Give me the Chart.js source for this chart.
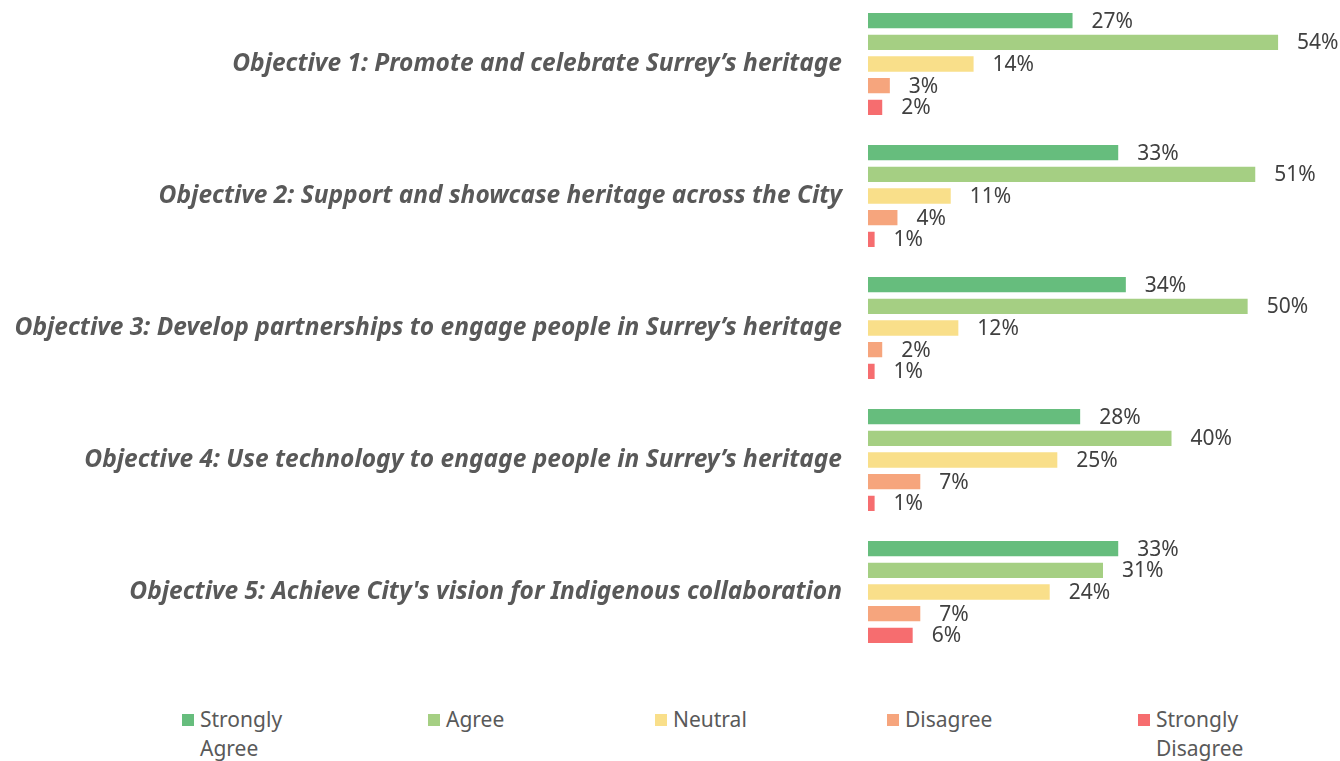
<!DOCTYPE html>
<html>
<head>
<meta charset="utf-8">
<script src="https://cdn.jsdelivr.net/npm/chart.js@4"></script>
<style>
  body { margin: 0; background: #fff; font-family: "Noto Sans", sans-serif; }
  #wrap { position: relative; width: 1340px; height: 761px; overflow: hidden; }
  #chartBox { position: absolute; left: 0; top: -2px; width: 1340px; height: 660px; }
  #legend { position: absolute; left: 0; top: 705px; width: 1340px; height: 56px; }
  .item { position: absolute; top: 0; display: flex; align-items: flex-start; }
  .swatch { width: 12px; height: 12px; margin-top: 9px; margin-right: 6px; }
  .txt { width: 100px; font-size: 21px; line-height: 29px; color: #595959; }
</style>
</head>
<body>
<div id="wrap">
  <div id="chartBox"><canvas id="chart"></canvas></div>
  <div id="legend"></div>
</div>
<script>
// Categories (objectives) and responses per agreement level, in %
const objectives = [
    "Objective 1: Promote and celebrate Surrey\u2019s heritage",
    "Objective 2: Support and showcase heritage across the City",
    "Objective 3: Develop partnerships to engage people in Surrey\u2019s heritage",
    "Objective 4: Use technology to engage people in Surrey\u2019s heritage",
    "Objective 5: Achieve City's vision for Indigenous collaboration"
];
const levels = ["Strongly Agree", "Agree", "Neutral", "Disagree", "Strongly Disagree"];
const stronglyAgree = [27, 33, 34, 28, 33];
const agree = [54, 51, 50, 40, 31];
const neutral = [14, 11, 12, 25, 24];
const disagree = [3, 4, 2, 7, 7];
const stronglyDisagree = [2, 1, 1, 1, 6];

const colors = ["#66BD7D", "#A5CF83", "#F9DF8A", "#F6A57D", "#F66D6F"];
const legendX = [182, 428, 655, 887, 1138];

let series = [stronglyAgree, agree, neutral, disagree, stronglyDisagree];
let datasets = [];
for (let i = 0; i < levels.length; i++) {
    datasets.push({
        label: levels[i],
        data: series[i],
        backgroundColor: colors[i],
        borderColor: 'rgba(255,255,255,0.5)',
        borderWidth: 1,
        categoryPercentage: 0.82,
        barPercentage: 0.8
    });
}

// Draw value labels next to each bar
const valueLabels = {
    id: 'valueLabels',
    afterDatasetsDraw(chart) {
        let ctx = chart.ctx;
        ctx.save();
        ctx.font = '21px "Noto Sans"';
        ctx.fillStyle = '#404040';
        ctx.textAlign = 'left';
        ctx.textBaseline = 'middle';
        chart.data.datasets.forEach((ds, i) => {
            let meta = chart.getDatasetMeta(i);
            meta.data.forEach((bar, j) => {
                ctx.fillText(ds.data[j] + '%', bar.x + 18, bar.y + 1);
            });
        });
        ctx.restore();
    }
};

let ctx = document.getElementById('chart').getContext('2d');
new Chart(ctx, {
    type: 'bar',
    data: { labels: objectives, datasets: datasets },
    options: {
        indexAxis: 'y',
        responsive: true,
        maintainAspectRatio: false,
        animation: false,
        layout: { padding: 0 },
        plugins: {
            legend: { display: false },
            tooltip: { enabled: false }
        },
        scales: {
            x: {
                display: false,
                min: 0,
                max: 62
            },
            y: {
                grid: { display: false, drawTicks: false },
                border: { display: false },
                ticks: {
                    padding: 26,
                    color: '#595959',
                    font: { family: 'Noto Sans', size: 24.5, style: 'italic', weight: 'bold' }
                },
                afterFit(scale) {
                    scale.width = 868;
                    scale.paddingTop = 0;
                    scale.paddingBottom = 0;
                }
            }
        }
    },
    plugins: [valueLabels]
});

// Legend with wrapped labels
let legend = document.getElementById('legend');
for (let i = 0; i < levels.length; i++) {
    let item = document.createElement('div');
    item.className = 'item';
    item.style.left = legendX[i] + 'px';
    item.innerHTML = '<div class="swatch" style="background:' + colors[i] + '"></div>' +
        '<div class="txt">' + levels[i] + '</div>';
    legend.appendChild(item);
}
</script>
</body>
</html>
